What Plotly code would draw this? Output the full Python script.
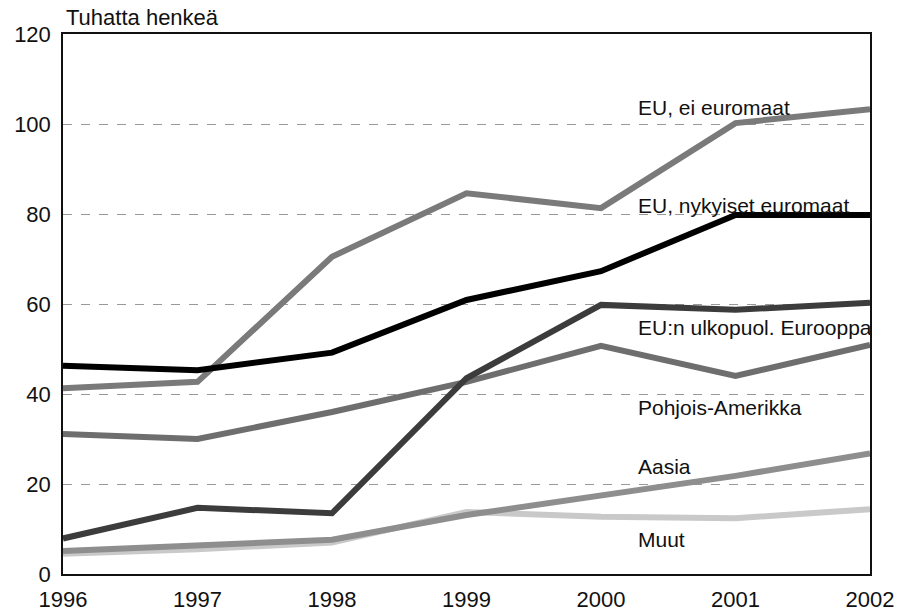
import plotly.graph_objects as go

years = [1996, 1997, 1998, 1999, 2000, 2001, 2002]
eu_ei_euromaat = [41.3, 42.7, 70.5, 84.6, 81.3, 100.2, 103.3]
eu_nykyiset = [46.3, 45.3, 49.2, 60.9, 67.3, 79.8, 79.8]
eu_ulkopuol = [7.9, 14.7, 13.5, 43.5, 59.8, 58.7, 60.3]
pohjois_amerikka = [31.1, 30.0, 36.0, 42.7, 50.7, 44.0, 50.9]
aasia = [5.1, 6.4, 7.6, 13.1, 17.5, 21.8, 26.8]
muut = [4.5, 5.5, 7.0, 13.8, 12.7, 12.4, 14.4]

series = [
    ("Muut", muut, "#c9c9c9"),
    ("Aasia", aasia, "#8e8e8e"),
    ("Pohjois-Amerikka", pohjois_amerikka, "#6e6e6e"),
    ("EU:n ulkopuol. Eurooppa", eu_ulkopuol, "#3c3c3c"),
    ("EU, ei euromaat", eu_ei_euromaat, "#7a7a7a"),
    ("EU, nykyiset euromaat", eu_nykyiset, "#000000"),
]

label_pos = [
    ("EU, ei euromaat", 103.6),
    ("EU, nykyiset euromaat", 82.0),
    ("EU:n ulkopuol. Eurooppa", 54.7),
    ("Pohjois-Amerikka", 36.9),
    ("Aasia", 23.8),
    ("Muut", 7.6),
]

fig = go.Figure()
for name, vals, col in series:
    fig.add_trace(go.Scatter(x=years, y=vals, mode="lines", name=name,
                             line=dict(color=col, width=6)))

for text, yv in label_pos:
    fig.add_annotation(x=2000.26, y=yv, xref="x", yref="y", text=text,
                       showarrow=False, xanchor="left", yanchor="middle",
                       font=dict(size=21, color="#111"))

fig.add_annotation(x=0, y=1, xref="paper", yref="paper", text="Tuhatta henkeä",
                   showarrow=False, xanchor="left", yanchor="middle", yshift=17,
                   xshift=1, font=dict(size=22, color="#111"))

fig.update_layout(
    width=900, height=614,
    margin=dict(l=63, r=30, t=34, b=40),
    plot_bgcolor="white", paper_bgcolor="white",
    showlegend=False,
    font=dict(family="Liberation Sans, Arial, sans-serif", color="#111"),
)
fig.update_xaxes(range=[1996, 2002], tickvals=years, ticktext=[str(y) for y in years],
                 showgrid=False, showline=True, linecolor="#111", linewidth=1.5,
                 mirror=True, ticks="", tickfont=dict(size=22), zeroline=False,
                 ticklabelstandoff=5, automargin=False, ticklabeloverflow="allow")
fig.update_yaxes(range=[0, 120], tickvals=[0, 20, 40, 60, 80, 100, 120],
                 showgrid=True, gridcolor="#999", griddash="dash", gridwidth=1,
                 showline=True, linecolor="#111", linewidth=1.5, mirror=True,
                 ticks="", tickfont=dict(size=22), zeroline=False,
                 ticklabelstandoff=6, automargin=False, ticklabeloverflow="allow")

fig.write_html(
    "out.html",
    config={"displayModeBar": False},
    post_script="document.body.style.margin='0';document.body.style.overflow='hidden';",
)
